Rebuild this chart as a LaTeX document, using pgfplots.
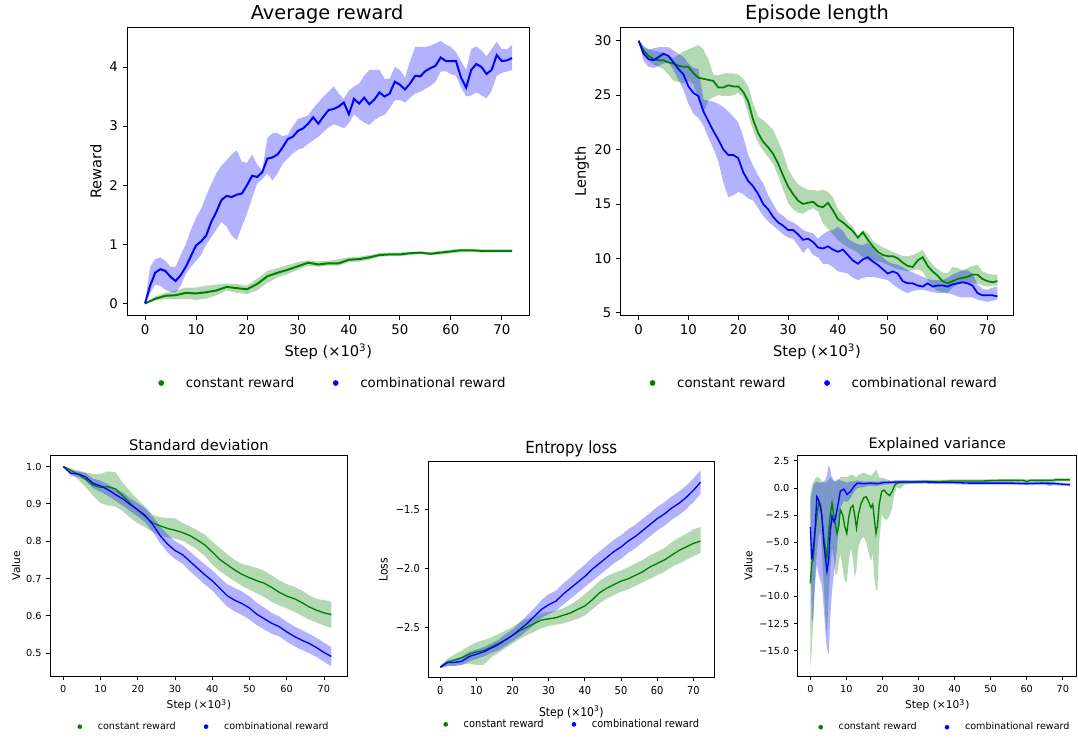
\documentclass[border=0pt]{standalone}
\usepackage{fontspec}
\setmainfont{DejaVu Sans}
\newfontfamily\condfont[FakeStretch=0.9]{DejaVu Sans}
\usepackage{pgfplots}
\usepackage{pgfplotstable}
\pgfplotsset{compat=1.18}
\usepgfplotslibrary{fillbetween}
\definecolor{mplgreen}{RGB}{0,128,0}
\definecolor{mplblue}{RGB}{0,0,255}
\newcommand{\fs}[1]{\fontsize{#1}{#1}\selectfont}

% ---------- Average reward ----------
\pgfplotstableread{
x m u l
0 0.00 0.00 0.00
1 0.30 0.62 0.17
2 0.52 0.75 0.32
3 0.58 0.78 0.30
4 0.55 0.72 0.23
5 0.45 0.62 0.20
6 0.38 0.62 0.19
7 0.48 0.82 0.30
8 0.62 1.00 0.50
9 0.80 1.25 0.62
10 0.98 1.45 0.72
11 1.05 1.60 0.82
12 1.15 1.82 1.00
13 1.38 2.02 1.12
14 1.55 2.20 1.25
15 1.75 2.33 1.38
16 1.82 2.42 1.30
17 1.80 2.52 1.15
18 1.84 2.59 1.07
19 1.86 2.40 1.30
20 2.00 2.38 1.52
21 2.16 2.52 1.78
22 2.14 2.35 2.03
23 2.22 2.25 2.10
24 2.45 2.80 2.20
25 2.47 2.88 2.08
26 2.52 2.88 2.20
27 2.64 2.83 2.36
28 2.78 2.85 2.45
29 2.82 3.00 2.54
30 2.92 3.12 2.60
31 2.96 3.15 2.63
32 3.04 3.18 2.70
33 3.15 3.30 2.76
34 3.04 3.40 2.82
35 3.16 3.50 2.90
36 3.27 3.58 2.98
37 3.29 3.67 3.03
38 3.33 3.55 3.00
39 3.40 3.46 2.96
40 3.20 3.60 3.05
41 3.46 3.67 3.20
42 3.38 3.72 3.12
43 3.48 3.85 3.06
44 3.37 3.95 3.02
45 3.45 3.95 3.10
46 3.57 3.95 3.16
47 3.50 3.80 3.19
48 3.55 3.80 3.30
49 3.75 4.00 3.44
50 3.70 3.95 3.44
51 3.62 3.82 3.40
52 3.72 4.10 3.48
53 3.85 4.34 3.55
54 3.84 4.34 3.58
55 3.93 4.34 3.63
56 3.98 4.36 3.68
57 4.02 4.40 3.75
58 4.16 4.44 3.92
59 4.10 4.38 3.93
60 4.10 4.34 3.88
61 4.10 4.25 3.85
62 3.82 4.10 3.65
63 3.65 3.95 3.50
64 3.95 4.30 3.52
65 4.05 4.35 3.57
66 4.00 4.28 3.52
67 3.88 4.18 3.47
68 3.95 4.30 3.60
69 4.20 4.43 3.85
70 4.10 4.30 3.90
71 4.11 4.30 3.92
72 4.15 4.37 3.95
}\tlb
\pgfplotstableread{
x m u l
0 0.00 0.00 0.00
2 0.08 0.12 0.05
4 0.13 0.18 0.08
6 0.14 0.22 0.07
8 0.18 0.27 0.08
10 0.17 0.27 0.06
12 0.19 0.30 0.08
14 0.22 0.32 0.14
16 0.28 0.34 0.22
18 0.26 0.33 0.18
20 0.24 0.30 0.16
22 0.33 0.42 0.22
24 0.46 0.55 0.35
26 0.52 0.60 0.44
28 0.57 0.65 0.50
30 0.63 0.70 0.57
32 0.69 0.73 0.64
34 0.66 0.71 0.62
36 0.68 0.72 0.64
38 0.68 0.75 0.64
40 0.74 0.78 0.70
42 0.75 0.79 0.71
44 0.78 0.82 0.74
46 0.82 0.85 0.79
48 0.83 0.86 0.80
50 0.83 0.86 0.80
52 0.85 0.87 0.82
54 0.86 0.88 0.84
56 0.84 0.87 0.82
58 0.86 0.89 0.83
60 0.88 0.91 0.85
62 0.90 0.93 0.87
64 0.90 0.92 0.87
66 0.89 0.91 0.86
68 0.89 0.91 0.87
70 0.89 0.91 0.87
72 0.89 0.91 0.87
}\tlg

% ---------- Episode length ----------
\pgfplotstableread{
x m u l
0 30.0 30.0 30.0
1 28.8 29.5 28.1
2 28.3 29.2 27.6
3 28.2 29.3 27.5
4 28.5 29.4 27.7
5 28.8 29.4 27.9
6 28.6 29.4 28.0
7 28.0 29.1 27.3
8 27.4 28.8 26.4
9 26.9 28.5 25.5
10 25.8 27.9 24.2
11 25.2 27.5 23.3
12 24.9 27.4 22.9
13 23.5 24.6 22.2
14 22.6 24.5 21.1
15 21.7 24.4 20.1
16 20.9 24.2 18.9
17 20.0 23.9 17.0
18 19.5 23.5 15.6
19 19.5 23.0 15.8
20 19.2 22.5 16.1
21 17.9 21.2 15.9
22 17.1 19.5 15.5
23 16.6 18.5 15.3
24 15.9 17.6 14.6
25 15.0 16.9 13.9
26 14.5 15.8 13.4
27 13.8 15.0 13.0
28 13.3 14.2 12.6
29 13.0 13.9 12.2
30 12.6 13.5 11.9
31 12.6 13.3 11.8
32 12.2 13.0 11.2
33 11.7 12.6 10.5
34 11.8 12.4 11.0
35 11.5 12.3 10.3
36 11.0 11.8 10.1
37 10.9 12.2 9.5
38 11.1 12.5 9.5
39 10.8 12.6 9.2
40 10.6 12.9 8.8
41 10.8 12.5 8.7
42 10.3 11.8 8.6
43 9.8 11.5 8.2
44 9.5 11.3 8.0
45 9.9 11.2 8.2
46 10.1 11.4 8.3
47 9.7 11.0 8.3
48 9.4 10.4 8.2
49 9.0 10.1 8.1
50 8.6 9.7 8.0
51 8.8 9.5 7.6
52 8.6 9.4 7.3
53 7.9 9.2 7.0
54 7.7 8.9 6.8
55 7.7 8.7 7.0
56 7.5 8.5 7.1
57 7.4 8.3 7.1
58 7.7 8.1 7.0
59 7.4 8.0 6.9
60 7.5 8.0 6.8
61 7.5 8.0 6.8
62 7.4 8.2 6.8
63 7.6 8.5 6.7
64 7.7 8.7 6.5
65 7.8 8.9 6.4
66 7.7 8.9 6.4
67 7.5 8.6 6.4
68 6.8 7.6 6.2
69 6.6 7.2 6.1
70 6.6 7.1 6.0
71 6.6 7.3 6.1
72 6.5 7.4 6.2
}\trb
\pgfplotstableread{
x m u l
0 30.0 30.0 30.0
1 29.1 29.4 28.8
2 28.6 29.2 28.2
3 28.3 29.1 27.8
4 28.2 29.0 27.6
5 28.2 28.9 27.4
6 28.0 28.6 26.9
7 27.9 28.4 26.3
8 27.7 28.7 26.2
9 27.6 29.0 26.1
10 27.6 29.2 26.3
11 27.0 29.4 26.0
12 26.6 29.6 24.5
13 26.5 29.2 23.3
14 26.4 28.3 24.5
15 26.3 26.9 24.8
16 25.7 26.8 25.0
17 25.7 27.0 24.9
18 25.9 27.0 24.9
19 25.8 27.0 25.0
20 25.8 26.9 25.2
21 25.3 26.5 24.8
22 24.4 25.8 23.2
23 22.7 24.2 21.7
24 21.5 23.0 20.6
25 20.7 22.7 19.9
26 20.2 22.3 19.3
27 19.6 21.8 18.7
28 18.7 20.8 17.6
29 17.6 19.7 16.3
30 16.6 18.2 15.1
31 15.9 17.4 14.5
32 15.3 16.8 14.2
33 15.0 16.5 14.1
34 15.1 16.3 14.4
35 15.2 16.3 14.6
36 14.8 16.2 14.3
37 14.7 16.3 13.2
38 15.1 16.1 12.7
39 14.4 15.6 12.2
40 13.6 14.5 11.7
41 13.3 14.0 11.3
42 12.9 13.3 11.0
43 12.5 12.9 10.8
44 11.9 12.0 10.5
45 12.4 12.6 10.1
46 11.7 12.3 9.8
47 11.1 11.6 9.7
48 10.6 11.3 9.7
49 10.3 11.0 9.6
50 10.2 10.8 9.4
51 10.2 10.6 9.2
52 10.0 10.4 9.0
53 9.6 10.2 8.9
54 9.3 10.2 8.8
55 9.2 10.3 8.9
56 9.8 10.5 9.0
57 10.1 10.8 8.8
58 9.3 10.0 8.0
59 8.8 9.4 7.4
60 8.4 9.0 7.0
61 7.9 8.7 6.9
62 7.7 8.6 6.8
63 7.9 9.2 7.3
64 8.1 9.1 7.6
65 8.2 8.9 7.7
66 8.3 9.1 7.7
67 8.5 9.3 7.7
68 8.5 9.4 7.7
69 8.1 8.8 7.5
70 7.9 8.6 7.4
71 7.8 8.5 7.5
72 7.9 8.5 7.5
}\trg

% ---------- Standard deviation ----------
\pgfplotstableread{
x m u l
0 1.000 1.000 1.000
2 0.982 0.988 0.975
4 0.980 0.987 0.972
6 0.972 0.982 0.962
8 0.955 0.967 0.942
10 0.948 0.962 0.932
12 0.938 0.952 0.922
14 0.925 0.940 0.908
16 0.913 0.930 0.895
18 0.898 0.915 0.880
20 0.884 0.902 0.866
22 0.869 0.888 0.850
24 0.845 0.866 0.825
26 0.815 0.840 0.795
28 0.792 0.818 0.770
30 0.775 0.800 0.752
32 0.764 0.789 0.740
34 0.746 0.772 0.720
36 0.728 0.755 0.702
38 0.710 0.738 0.684
40 0.694 0.722 0.668
42 0.674 0.703 0.646
44 0.654 0.685 0.625
46 0.642 0.675 0.612
48 0.633 0.665 0.602
50 0.621 0.652 0.590
52 0.604 0.635 0.575
54 0.592 0.622 0.563
56 0.580 0.608 0.552
58 0.571 0.598 0.545
60 0.557 0.584 0.531
62 0.545 0.572 0.519
64 0.535 0.562 0.509
66 0.526 0.552 0.500
68 0.515 0.541 0.490
70 0.502 0.528 0.477
72 0.491 0.516 0.465
}\blb
\pgfplotstableread{
x m u l
0 1.000 1.000 0.998
2 0.990 0.995 0.983
4 0.979 0.989 0.965
6 0.966 0.984 0.945
8 0.950 0.980 0.922
10 0.944 0.980 0.902
12 0.946 0.987 0.896
14 0.940 0.985 0.893
16 0.921 0.956 0.880
18 0.901 0.933 0.862
20 0.883 0.912 0.848
22 0.866 0.892 0.837
24 0.849 0.871 0.825
26 0.841 0.864 0.815
28 0.834 0.862 0.810
30 0.829 0.861 0.807
32 0.823 0.849 0.801
34 0.815 0.840 0.790
36 0.803 0.829 0.777
38 0.790 0.817 0.760
40 0.771 0.799 0.737
42 0.751 0.782 0.720
44 0.737 0.765 0.706
46 0.723 0.750 0.693
48 0.711 0.739 0.680
50 0.702 0.734 0.670
52 0.694 0.728 0.660
54 0.687 0.721 0.650
56 0.676 0.708 0.637
58 0.663 0.695 0.628
60 0.653 0.685 0.620
62 0.646 0.678 0.611
64 0.636 0.668 0.601
66 0.624 0.655 0.590
68 0.615 0.646 0.582
70 0.608 0.642 0.574
72 0.603 0.638 0.567
}\blg

% ---------- Entropy loss ----------
\pgfplotstableread{
x m u l
0 -2.84 -2.83 -2.85
2 -2.80 -2.78 -2.83
4 -2.80 -2.77 -2.83
6 -2.79 -2.75 -2.82
8 -2.75 -2.71 -2.79
10 -2.73 -2.69 -2.77
12 -2.71 -2.67 -2.75
14 -2.68 -2.64 -2.72
16 -2.65 -2.61 -2.70
18 -2.61 -2.56 -2.66
20 -2.57 -2.52 -2.62
22 -2.52 -2.46 -2.58
24 -2.47 -2.40 -2.53
26 -2.41 -2.34 -2.48
28 -2.35 -2.27 -2.42
30 -2.31 -2.22 -2.39
32 -2.28 -2.19 -2.36
34 -2.22 -2.13 -2.31
36 -2.17 -2.08 -2.26
38 -2.12 -2.02 -2.21
40 -2.07 -1.97 -2.16
42 -2.01 -1.91 -2.11
44 -1.96 -1.86 -2.06
46 -1.91 -1.81 -2.01
48 -1.86 -1.76 -1.96
50 -1.82 -1.72 -1.92
52 -1.77 -1.67 -1.87
54 -1.73 -1.63 -1.83
56 -1.68 -1.58 -1.78
58 -1.63 -1.53 -1.73
60 -1.58 -1.48 -1.68
62 -1.54 -1.44 -1.64
64 -1.49 -1.39 -1.59
66 -1.45 -1.35 -1.55
68 -1.40 -1.30 -1.50
70 -1.34 -1.24 -1.44
72 -1.27 -1.17 -1.37
}\bmb
\pgfplotstableread{
x m u l
0 -2.84 -2.83 -2.85
2 -2.80 -2.77 -2.83
4 -2.78 -2.73 -2.83
6 -2.76 -2.70 -2.82
8 -2.73 -2.66 -2.81
10 -2.71 -2.63 -2.82
12 -2.70 -2.61 -2.82
14 -2.67 -2.59 -2.76
16 -2.64 -2.56 -2.72
18 -2.61 -2.53 -2.68
20 -2.57 -2.50 -2.64
22 -2.53 -2.46 -2.60
24 -2.50 -2.43 -2.57
26 -2.47 -2.41 -2.54
28 -2.44 -2.38 -2.51
30 -2.43 -2.37 -2.49
32 -2.42 -2.36 -2.48
34 -2.40 -2.34 -2.47
36 -2.38 -2.31 -2.45
38 -2.35 -2.27 -2.43
40 -2.32 -2.22 -2.40
42 -2.27 -2.17 -2.35
44 -2.21 -2.11 -2.30
46 -2.17 -2.07 -2.26
48 -2.14 -2.04 -2.23
50 -2.11 -2.02 -2.20
52 -2.09 -1.99 -2.18
54 -2.06 -1.96 -2.15
56 -2.03 -1.93 -2.12
58 -1.99 -1.89 -2.09
60 -1.96 -1.86 -2.06
62 -1.93 -1.83 -2.03
64 -1.89 -1.78 -1.99
66 -1.85 -1.74 -1.96
68 -1.82 -1.71 -1.93
70 -1.79 -1.67 -1.90
72 -1.77 -1.65 -1.87
}\bmg

% ---------- Explained variance ----------
\pgfplotstableread{
x m u l
0 -3.6 -1.0 -3.8
0.4 -6.6 -0.5 -12.5
0.8 -5.7 0.2 -12.0
1.3 -3.9 0.5 -9.0
1.8 -0.8 0.6 -7.0
2.3 -1.1 0.5 -8.0
2.8 -1.8 0.5 -8.5
3.2 -2.6 0.5 -9.0
3.7 -5.0 0.6 -11.0
4.2 -6.6 0.8 -13.5
4.6 -7.7 1.2 -14.8
5.1 -6.6 2.1 -15.3
5.5 -4.1 1.8 -12.0
6.0 -2.6 0.8 -9.5
6.5 -3.1 0.6 -8.0
6.9 -2.9 0.6 -7.0
7.4 -2.0 0.8 -5.5
7.9 -1.1 0.8 -3.5
8.3 -0.3 0.7 -1.8
9.3 -0.1 0.6 -1.2
10.2 -0.6 0.5 -1.3
11.2 -0.3 0.6 -0.9
12.1 0.15 0.6 -0.4
13.0 0.45 0.7 0.0
14.9 0.40 0.6 0.1
16.7 0.45 0.6 0.2
18.6 0.40 0.6 0.2
20.4 0.50 0.65 0.3
24 0.55 0.7 0.4
28 0.55 0.7 0.4
32 0.55 0.7 0.4
36 0.50 0.65 0.35
40 0.50 0.65 0.35
44 0.45 0.6 0.3
48 0.45 0.6 0.3
52 0.45 0.6 0.3
56 0.45 0.6 0.3
60 0.40 0.55 0.25
64 0.45 0.6 0.3
68 0.40 0.55 0.25
72 0.30 0.45 0.15
}\brb
\pgfplotstableread{
x m u l
0 -8.8 -0.5 -16.5
0.4 -6.9 0.2 -15.0
0.8 -6.6 0.5 -12.0
1.3 -4.1 0.8 -8.0
1.8 -2.6 1.0 -6.0
2.3 -1.4 1.0 -4.5
2.8 -1.5 0.8 -4.0
3.2 -2.6 0.6 -6.0
3.7 -4.4 0.5 -9.0
4.2 -5.6 0.5 -12.0
4.6 -6.5 0.6 -13.5
5.1 -4.0 0.8 -10.0
5.5 -2.5 0.9 -7.5
6.0 -1.4 1.0 -5.5
6.5 -2.5 0.8 -6.5
7.0 -3.5 0.6 -8.0
7.4 -4.2 0.6 -8.0
7.9 -3.5 0.8 -7.0
8.3 -2.0 1.0 -6.0
9.0 -2.5 1.0 -7.5
9.5 -3.5 1.0 -8.5
10.1 -4.2 1.0 -8.7
10.6 -2.8 1.1 -7.0
11.2 -1.8 1.2 -5.5
11.8 -1.6 1.2 -6.5
12.3 -2.5 1.1 -8.3
12.8 -3.7 1.0 -7.5
13.3 -2.5 1.2 -5.5
14.0 -1.5 1.3 -4.8
14.8 -0.9 1.4 -4.5
15.5 -0.8 1.3 -5.0
16.2 -1.3 1.2 -6.0
16.8 -1.8 1.1 -6.8
17.3 -1.5 1.3 -6.0
17.8 -3.0 1.5 -8.5
18.2 -4.2 1.7 -9.4
18.6 -3.5 1.4 -9.4
19.1 -1.5 1.0 -5.0
19.8 -0.3 0.9 -2.5
20.5 -0.2 0.9 -2.8
21.2 -0.5 0.8 -3.0
22.0 -0.7 0.7 -2.5
22.7 -0.3 0.6 -1.8
23.3 0.2 0.7 -0.5
24 0.45 0.7 0.1
25 0.50 0.7 -0.1
26 0.55 0.7 0.3
28 0.55 0.7 0.4
32 0.60 0.75 0.45
36 0.60 0.75 0.45
40 0.65 0.8 0.5
44 0.65 0.8 0.5
48 0.65 0.8 0.5
52 0.70 0.85 0.55
56 0.70 0.85 0.55
59 0.70 0.85 0.5
60 0.60 0.8 0.3
61 0.70 0.85 0.5
64 0.70 0.85 0.55
66 0.70 0.85 0.2
67 0.70 0.85 0.2
68 0.75 0.9 0.6
72 0.75 0.9 0.6
}\brg

\pgfplotsset{
  base/.style={scale only axis, anchor=south west,
    axis line style={black, line width=0.6pt},
    tick align=outside, tick pos=left, major tick length=3.5pt,
    every tick/.append style={black, line width=0.6pt},
    xtick={0,10,...,70}, xticklabels={0,10,20,30,40,50,60,70},
    legend columns=2, xlabel={Step (×10\textsuperscript{3})}},
  band/.style={draw=none, forget plot},
  gfill/.style={fill=mplgreen, fill opacity=0.3, draw=none, forget plot},
  bfill/.style={fill=mplblue, fill opacity=0.3, draw=none, forget plot},
  bigdot/.style={legend image code/.code={\fill (0,0) circle (1.9pt); \path[draw=none,fill=none] (-1.9pt,0) -- (18.5pt,0);}},
  smalldot/.style={legend image code/.code={\fill (0,0) circle (1.5pt); \path[draw=none,fill=none] (-1.5pt,0) -- (13.5pt,0);}},
  ttl/.style n args={3}{every axis title/.style={at={(axis description cs:#1,#2)}, anchor=center, font=#3}},
}

\begin{document}
\begin{tikzpicture}

% ===== Average reward =====
\begin{axis}[base, bigdot, at={(95.5pt,317.0pt)}, width=301.5pt, height=216pt,
  xmin=-3.47, xmax=75.4, ymin=-0.2, ymax=4.67,
  ytick={0,1,2,3,4}, yticklabels={0,1,2,3,4},
  tick label style={font=\fs{10}},
  title={Average reward}, ttl={0.497}{1.046}{\fs{14.5}},
  xlabel style={at={(axis description cs:0.5,-0.127)}, anchor=center, font=\fs{11}},
  ylabel={Reward}, ylabel style={at={(axis description cs:-0.078,0.5)}, anchor=center, font=\fs{11}},
  legend style={at={(axis description cs:0.509,-0.235)}, anchor=center, draw=none, fill=none, font=\fs{10},
    nodes={inner sep=0pt}, /tikz/every even column/.append style={column sep=29pt}}]
\addlegendimage{mplgreen}\addlegendentry{constant reward}
\addlegendimage{mplblue}\addlegendentry{combinational reward}
\addplot[band, name path=a1u] table[x=x,y=u]{\tlg};
\addplot[band, name path=a1l] table[x=x,y=l]{\tlg};
\addplot[gfill] fill between[of=a1u and a1l];
\addplot[mplgreen, line width=1.5pt, forget plot] table[x=x,y=m]{\tlg};
\addplot[band, name path=a1bu] table[x=x,y=u]{\tlb};
\addplot[band, name path=a1bl] table[x=x,y=l]{\tlb};
\addplot[bfill] fill between[of=a1bu and a1bl];
\addplot[mplblue, line width=1.5pt, forget plot] table[x=x,y=m]{\tlb};
\end{axis}

% ===== Episode length =====
\begin{axis}[base, bigdot, at={(465.5pt,317.0pt)}, width=294.5pt, height=216pt,
  xmin=-3.6, xmax=75.2, ymin=4.76, ymax=31.23,
  ytick={5,10,15,20,25,30}, yticklabels={5,10,15,20,25,30},
  tick label style={font=\fs{10}},
  title={Episode length}, ttl={0.5}{1.046}{\fs{14.5}},
  xlabel style={at={(axis description cs:0.5,-0.127)}, anchor=center, font=\fs{11}},
  ylabel={Length}, ylabel style={at={(axis description cs:-0.099,0.5)}, anchor=center, font=\fs{11}},
  legend style={at={(axis description cs:0.516,-0.235)}, anchor=center, draw=none, fill=none, font=\fs{10},
    nodes={inner sep=0pt}, /tikz/every even column/.append style={column sep=29pt}}]
\addlegendimage{mplgreen}\addlegendentry{constant reward}
\addlegendimage{mplblue}\addlegendentry{combinational reward}
\addplot[band, name path=a2u] table[x=x,y=u]{\trg};
\addplot[band, name path=a2l] table[x=x,y=l]{\trg};
\addplot[gfill] fill between[of=a2u and a2l];
\addplot[mplgreen, line width=1.3pt, forget plot] table[x=x,y=m]{\trg};
\addplot[band, name path=a2bu] table[x=x,y=u]{\trb};
\addplot[band, name path=a2bl] table[x=x,y=l]{\trb};
\addplot[bfill] fill between[of=a2bu and a2bl];
\addplot[mplblue, line width=1.3pt, forget plot] table[x=x,y=m]{\trb};
\end{axis}

% ===== Standard deviation =====
\begin{axis}[base, smalldot, at={(37.5pt,46.0pt)}, width=223.3pt, height=166.3pt,
  xmin=-3.57, xmax=76.4, ymin=0.437, ymax=1.031,
  ytick={0.5,0.6,0.7,0.8,0.9,1.0}, yticklabels={0.5,0.6,0.7,0.8,0.9,1.0},
  tick label style={font=\fs{7.3}}, major tick length=2.8pt,
  title={Standard deviation}, ttl={0.5}{1.045}{\fs{11}},
  xlabel style={at={(axis description cs:0.5,-0.128)}, anchor=center, font=\fs{8}},
  ylabel={Value}, ylabel style={at={(axis description cs:-0.114,0.5)}, anchor=center, font=\fs{8}},
  legend style={at={(axis description cs:0.514,-0.2255)}, anchor=center, draw=none, fill=none, font=\fs{7.2},
    nodes={inner sep=0pt}, /tikz/every even column/.append style={column sep=21pt}}]
\addlegendimage{mplgreen}\addlegendentry{constant reward}
\addlegendimage{mplblue}\addlegendentry{combinational reward}
\addplot[band, name path=a3u] table[x=x,y=u]{\blg};
\addplot[band, name path=a3l] table[x=x,y=l]{\blg};
\addplot[gfill] fill between[of=a3u and a3l];
\addplot[mplgreen, line width=1pt, forget plot] table[x=x,y=m]{\blg};
\addplot[band, name path=a3bu] table[x=x,y=u]{\blb};
\addplot[band, name path=a3bl] table[x=x,y=l]{\blb};
\addplot[bfill] fill between[of=a3bu and a3bl];
\addplot[mplblue, line width=1pt, forget plot] table[x=x,y=m]{\blb};
\end{axis}

% ===== Entropy loss =====
\begin{axis}[base, smalldot, at={(321.2pt,45.2pt)}, width=214.5pt, height=162pt,
  xmin=-3.32, xmax=75.8, ymin=-2.93, ymax=-1.096,
  ytick={-2.5,-2.0,-1.5}, yticklabels={−2.5,−2.0,−1.5},
  tick label style={font=\condfont\fs{8.2}}, major tick length=2.8pt,
  title={Entropy loss}, ttl={0.5}{1.059}{\condfont\fs{12.5}},
  xlabel style={at={(axis description cs:0.5,-0.162)}, anchor=center, font=\condfont\fs{9}},
  ylabel={Loss}, ylabel style={at={(axis description cs:-0.157,0.5)}, anchor=center, font=\condfont\fs{9}},
  legend style={at={(axis description cs:0.5,-0.216)}, anchor=center, draw=none, fill=none, font=\condfont\fs{8.2},
    nodes={inner sep=0pt}, /tikz/every even column/.append style={column sep=21pt}}]
\addlegendimage{mplgreen}\addlegendentry{constant reward}
\addlegendimage{mplblue}\addlegendentry{combinational reward}
\addplot[band, name path=a4u] table[x=x,y=u]{\bmg};
\addplot[band, name path=a4l] table[x=x,y=l]{\bmg};
\addplot[gfill] fill between[of=a4u and a4l];
\addplot[mplgreen, line width=1pt, forget plot] table[x=x,y=m]{\bmg};
\addplot[band, name path=a4bu] table[x=x,y=u]{\bmb};
\addplot[band, name path=a4bl] table[x=x,y=l]{\bmb};
\addplot[bfill] fill between[of=a4bu and a4bl];
\addplot[mplblue, line width=1pt, forget plot] table[x=x,y=m]{\bmb};
\end{axis}

% ===== Explained variance =====
\begin{axis}[base, smalldot, at={(598.3pt,46.0pt)}, width=209.3pt, height=166.3pt,
  xmin=-3.5, xmax=73.9, ymin=-17.4, ymax=3.05,
  ytick={-15,-12.5,-10,-7.5,-5,-2.5,0,2.5},
  yticklabels={−15.0,−12.5,−10.0,−7.5,−5.0,−2.5,0.0,2.5},
  tick label style={font=\fs{7.3}}, major tick length=2.8pt,
  title={Explained variance}, ttl={0.5}{1.045}{\fs{10.8}},
  xlabel style={at={(axis description cs:0.5,-0.128)}, anchor=center, font=\fs{8}},
  ylabel={Value}, ylabel style={at={(axis description cs:-0.177,0.5)}, anchor=center, font=\fs{8}},
  legend style={at={(axis description cs:0.524,-0.228)}, anchor=center, draw=none, fill=none, font=\fs{7.2},
    nodes={inner sep=0pt}, /tikz/every even column/.append style={column sep=21pt}}]
\addlegendimage{mplgreen}\addlegendentry{constant reward}
\addlegendimage{mplblue}\addlegendentry{combinational reward}
\addplot[band, name path=a5u] table[x=x,y=u]{\brg};
\addplot[band, name path=a5l] table[x=x,y=l]{\brg};
\addplot[gfill] fill between[of=a5u and a5l];
\addplot[mplgreen, line width=1pt, forget plot] table[x=x,y=m]{\brg};
\addplot[band, name path=a5bu] table[x=x,y=u]{\brb};
\addplot[band, name path=a5bl] table[x=x,y=l]{\brb};
\addplot[bfill] fill between[of=a5bu and a5bl];
\addplot[mplblue, line width=1pt, forget plot] table[x=x,y=m]{\brb};
\end{axis}

\pgfresetboundingbox
\path[use as bounding box] (0,0) rectangle (808.5pt,553.5pt);
\end{tikzpicture}
\end{document}
